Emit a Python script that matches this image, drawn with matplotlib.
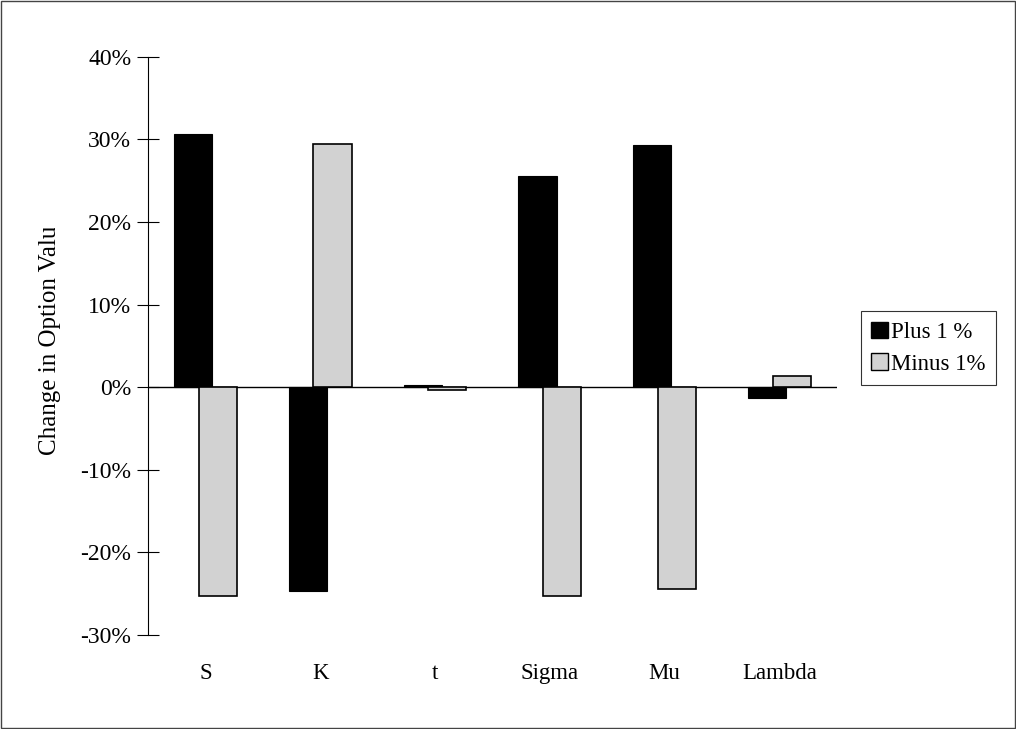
import matplotlib
matplotlib.use("Agg")
import matplotlib.pyplot as plt
from matplotlib.patches import Rectangle, Patch
from matplotlib.transforms import Bbox
import numpy as np

categories = ["S", "K", "t", "Sigma", "Mu", "Lambda"]
plus_1 = [30.6, -24.7, 0.3, 25.6, 29.3, -1.3]
minus_1 = [-25.3, 29.5, -0.3, -25.3, -24.4, 1.3]
y_ticks = [-30, -20, -10, 0, 10, 20, 30, 40]

plt.rcParams["font.family"] = ["Liberation Serif", "DejaVu Serif"]

fig = plt.figure(figsize=(10.16, 7.29), dpi=100)
ax = fig.add_axes([0.1457, 0.129, 0.678, 0.793])

x = np.arange(len(categories))
w = 0.333
off = 0.107  # bars overlap, Excel style
ax.bar(x - off, plus_1, w, color="black", edgecolor="black", linewidth=0.8,
       zorder=2)
ax.bar(x + off, minus_1, w, color="#d2d2d2", edgecolor="black", linewidth=1.2,
       zorder=3)
ax.axhline(0, color="black", linewidth=1.0, zorder=1)

ax.set_xlim(-0.5, 5.5)
ax.set_ylim(-30, 40)
ax.set_yticks(y_ticks)
ax.set_yticklabels([f"{v}%" for v in y_ticks], fontsize=17)
ax.set_xticks(x)
ax.set_xticklabels(categories, fontsize=16.5)
ax.tick_params(axis="x", length=0, pad=20)
ax.tick_params(axis="y", direction="inout", length=16, width=0.8, pad=4)

for side in ["top", "right", "bottom"]:
    ax.spines[side].set_visible(False)
ax.spines["left"].set_linewidth(0.8)

# y label, cut off at the top as in the original
lbl = fig.text(0.049, 0.541, "Change in Option Value", rotation=90, fontsize=18,
               ha="center", va="center")
lbl.set_clip_on(True)
lbl.set_clip_box(Bbox.from_extents(0, 0, 1016, 729 - 228))

handles = [Patch(facecolor="black", edgecolor="black"),
           Patch(facecolor="#d2d2d2", edgecolor="black")]
leg = fig.legend(handles, ["Plus 1 %", "Minus 1%"], loc="upper left",
                 bbox_to_anchor=(0.847, 0.573), fontsize=16.5, frameon=True,
                 fancybox=False, edgecolor="black", handlelength=0.75,
                 handleheight=0.75, handletextpad=0.15, borderpad=0.45,
                 labelspacing=0.45, borderaxespad=0)
leg.get_frame().set_linewidth(0.8)

fig.patches.append(Rectangle((0.001, 0.001), 0.998, 0.998, transform=fig.transFigure,
                             fill=False, edgecolor="#444444", linewidth=1.0))

fig.savefig("out.png", dpi=100)
